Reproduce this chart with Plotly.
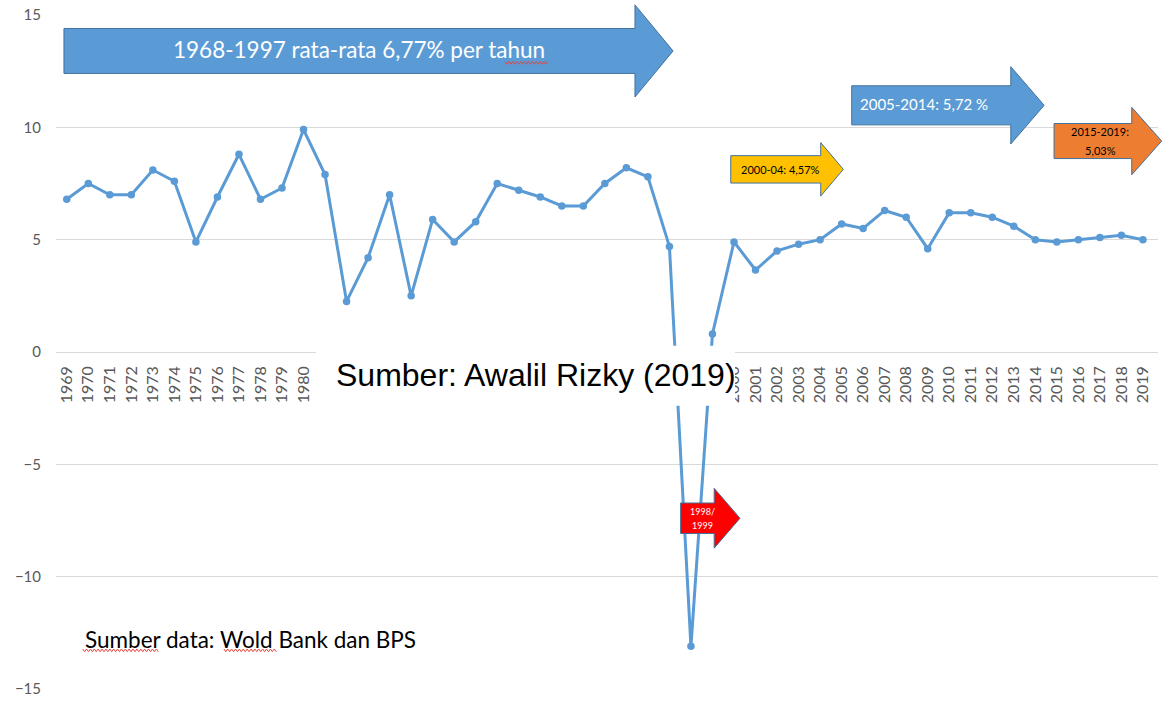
import plotly.graph_objects as go

# pertumbuhan ekonomi Indonesia (% per tahun)
years = [
    1969, 1970, 1971, 1972, 1973, 1974, 1975, 1976, 1977, 1978,
    1979, 1980, 1981, 1982, 1983, 1984, 1985, 1986, 1987, 1988,
    1989, 1990, 1991, 1992, 1993, 1994, 1995, 1996, 1997, 1998,
    1999, 2000, 2001, 2002, 2003, 2004, 2005, 2006, 2007, 2008,
    2009, 2010, 2011, 2012, 2013, 2014, 2015, 2016, 2017, 2018,
    2019,
]
growth = [
    6.8, 7.5, 7.0, 7.0, 8.1, 7.6, 4.9, 6.9, 8.8, 6.8,
    7.3, 9.9, 7.9, 2.25, 4.2, 7.0, 2.5, 5.9, 4.9, 5.8,
    7.5, 7.2, 6.9, 6.5, 6.5, 7.5, 8.2, 7.8, 4.7, -13.1,
    0.8, 4.9, 3.65, 4.5, 4.8, 5.0, 5.7, 5.5, 6.3, 6.0,
    4.6, 6.2, 6.2, 6.0, 5.6, 5.0, 4.9, 5.0, 5.1, 5.2,
    5.0,
]
year_labels = [str(y) for y in years]
y_ticks = [-15, -10, -5, 0, 5, 10, 15]

X_RANGE = [1968.5, 2019.7]
Y_RANGE = [-15, 15]

BLUE = "#5B9BD5"
OUTLINE = "#41719C"
GRID = "#D9D9D9"
TICK = "#595959"


def to_paper_x(x):
    return (x - X_RANGE[0]) / (X_RANGE[1] - X_RANGE[0])


def to_paper_y(y):
    return (y - Y_RANGE[0]) / (Y_RANGE[1] - Y_RANGE[0])


def block_arrow(x_left, x_head, x_tip, y_mid, body_half, head_half):
    pts = [
        (x_left, y_mid + body_half),
        (x_head, y_mid + body_half),
        (x_head, y_mid + head_half),
        (x_tip, y_mid),
        (x_head, y_mid - head_half),
        (x_head, y_mid - body_half),
        (x_left, y_mid - body_half),
    ]
    path = "M " + " L ".join(
        f"{to_paper_x(x):.5f},{to_paper_y(y):.5f}" for x, y in pts
    )
    return path + " Z"


def squiggle(x_start, x_end, y_base, step=0.09, amp=0.06):
    # garis bergelombang merah ala pemeriksa ejaan
    pts = []
    x = x_start
    up = True
    while x <= x_end:
        pts.append((x, y_base + (amp if up else -amp)))
        x += step
        up = not up
    return "M " + " L ".join(
        f"{to_paper_x(px):.5f},{to_paper_y(py):.5f}" for px, py in pts
    )


# panah periode (dalam satuan tahun / persen)
arrows = [
    dict(box=(1968.87, 1995.40, 1997.17, 13.40, 1.0, 2.05), fill=BLUE),
    dict(box=(1999.85, 2004.03, 2005.08, 8.13, 0.61, 1.19), fill="#FFC000"),
    dict(box=(2005.47, 2012.86, 2014.41, 10.98, 0.87, 1.72), fill=BLUE),
    dict(box=(2014.87, 2018.48, 2019.87, 9.39, 0.78, 1.50), fill="#ED7D31"),
    dict(box=(1997.52, 1999.08, 2000.28, -7.40, 0.68, 1.33), fill="#FF0000"),
]

labels = [
    dict(x=1982.58, y=13.45, text="1968-1997 rata-rata 6,77% per tahun",
         color="white", size=22.5, anchor="center"),
    dict(x=2008.83, y=11.02, text="2005-2014: 5,72 %",
         color="white", size=15, anchor="center"),
    dict(x=2002.14, y=8.11, text="2000-04: 4,57%",
         color="black", size=11, anchor="center"),
    dict(x=2017.01, y=9.81, text="2015-2019:",
         color="black", size=11, anchor="center"),
    dict(x=2017.01, y=8.96, text="5,03%",
         color="black", size=11, anchor="center"),
    dict(x=1998.55, y=-7.11, text="1998/",
         color="white", size=9, anchor="center"),
    dict(x=1998.55, y=-7.72, text="1999",
         color="white", size=9, anchor="center"),
    dict(x=1969.74, y=-12.80, text="Sumber data: Wold Bank dan BPS",
         color="black", size=22.5, anchor="left"),
]

# posisi garis ejaan (tahun awal, tahun akhir, nilai y)
spell_marks = [
    (1989.37, 1991.37, 12.87),
    (1969.74, 1973.32, -13.28),
    (1976.30, 1978.76, -13.28),
]

fig = go.Figure(
    go.Scatter(
        x=years,
        y=growth,
        mode="lines+markers",
        line=dict(color=BLUE, width=3),
        marker=dict(color=BLUE, size=7.5),
        hovertemplate="%{x}: %{y:.2f}%<extra></extra>",
    )
)

shapes = []
for a in arrows:
    shapes.append(
        dict(
            type="path",
            path=block_arrow(*a["box"]),
            xref="paper",
            yref="paper",
            fillcolor=a["fill"],
            line=dict(color=OUTLINE, width=1),
            layer="above",
        )
    )

for x0, x1, yb in spell_marks:
    shapes.append(
        dict(
            type="path",
            path=squiggle(x0, x1, yb),
            xref="paper",
            yref="paper",
            line=dict(color="#E8453C", width=1),
            layer="above",
        )
    )

# kotak putih sumber
shapes.append(
    dict(
        type="rect",
        xref="paper",
        yref="paper",
        x0=to_paper_x(1980.58),
        x1=to_paper_x(2000.05),
        y0=to_paper_y(-2.39),
        y1=to_paper_y(0.28),
        fillcolor="white",
        line=dict(width=0),
        layer="above",
    )
)

annotations = []
for t in labels:
    annotations.append(
        dict(
            x=to_paper_x(t["x"]),
            y=to_paper_y(t["y"]),
            xref="paper",
            yref="paper",
            text=t["text"],
            showarrow=False,
            xanchor=t["anchor"],
            yanchor="middle",
            font=dict(family="Lato", size=t["size"], color=t["color"]),
        )
    )
annotations.append(
    dict(
        x=to_paper_x(1990.78),
        y=to_paper_y(-1.01),
        xref="paper",
        yref="paper",
        text="Sumber: Awalil Rizky (2019)",
        showarrow=False,
        xanchor="center",
        yanchor="middle",
        font=dict(family="Liberation Sans, Arial", size=32, color="black"),
    )
)

fig.update_layout(
    width=1168,
    height=701,
    margin=dict(l=56, r=10, t=15, b=12),
    paper_bgcolor="white",
    plot_bgcolor="white",
    showlegend=False,
    shapes=shapes,
    annotations=annotations,
)

fig.update_xaxes(
    range=X_RANGE,
    tickmode="array",
    tickvals=years,
    ticktext=year_labels,
    tickangle=-90,
    tickfont=dict(family="Lato", size=16, color=TICK),
    showgrid=False,
    zeroline=False,
    showline=False,
    anchor="free",
    position=to_paper_y(0),
    ticklabelstandoff=10,
    automargin=False,
)
fig.update_yaxes(
    range=Y_RANGE,
    tickmode="array",
    tickvals=y_ticks,
    tickfont=dict(family="Lato", size=15, color=TICK),
    gridcolor=GRID,
    gridwidth=1,
    zeroline=False,
    showline=False,
    ticklabelstandoff=14,
    automargin=False,
)

# hilangkan margin bawaan body supaya figur pas di jendela
fig.write_html(
    "out.html",
    config={"displayModeBar": False},
    post_script="document.body.style.margin='0';document.body.style.overflow='hidden';",
)
